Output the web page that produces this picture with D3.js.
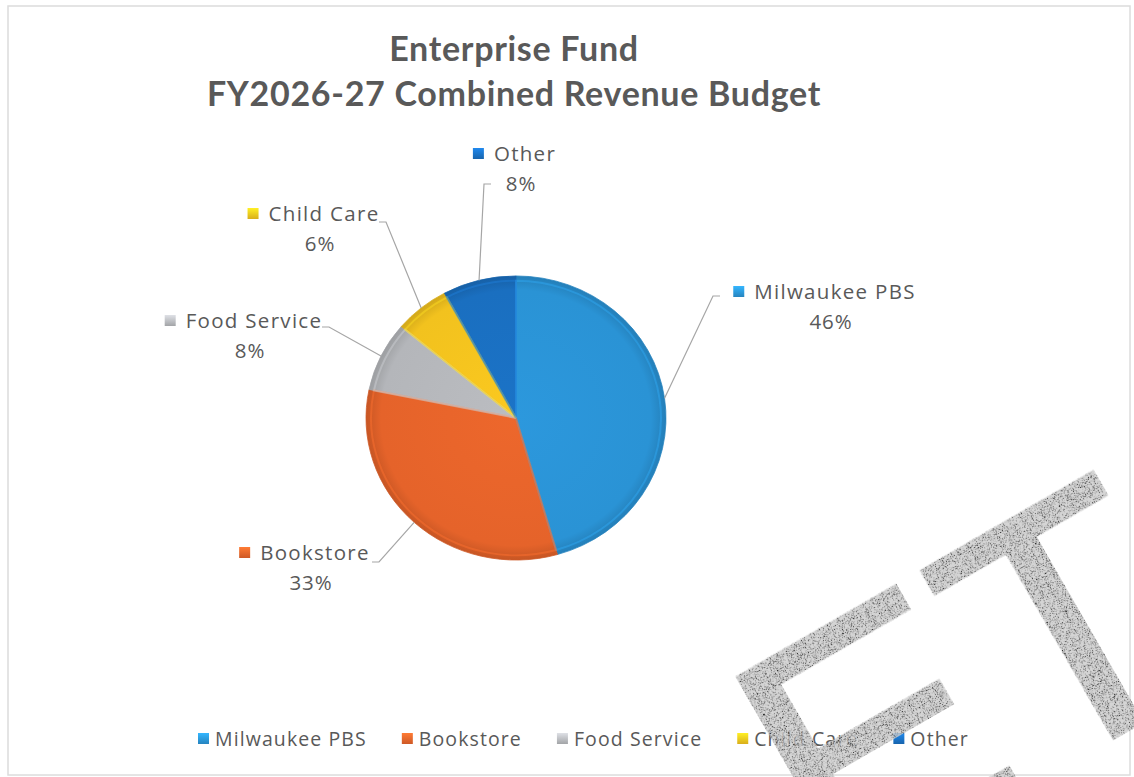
<!DOCTYPE html>
<html>
<head>
<meta charset="utf-8">
<script src="https://cdn.jsdelivr.net/npm/d3@7"></script>
<style>
  *{box-sizing: border-box;}
  body{ margin: 0; padding: 0; background: #fff; }
  svg{ display: block; }
  text{ font-family: "Open Sans", Lato, sans-serif; fill: #595959; }
</style>
</head>
<body>
<svg id="chart" width="1134" height="777"></svg>
<script>
  // данные
  const categories = ['Milwaukee PBS', 'Bookstore', 'Food Service', 'Child Care', 'Other'];
  const values     = [46, 33, 8, 6, 8];
  const colors     = ['#2a93d5', '#e5632a', '#b4b6ba', '#f2c21e', '#1a6fc0'];
  const titleLines = ['Enterprise Fund', 'FY2026-27 Combined  Revenue Budget'];

  // раскладка подписей (центр названия, конец выноски, направление "хвостика")
  const labelLayout = {
    'Milwaukee PBS': { x: 835, y: 299, ex: 720, ey: 296, side: -1 },
    'Bookstore':     { x: 315, y: 560, ex: 372, ey: 562, side:  1 },
    'Food Service':  { x: 254, y: 328, ex: 322, ey: 327, side:  1 },
    'Child Care':    { x: 324, y: 221, ex: 379, ey: 222, side:  1 },
    'Other':         { x: 525, y: 161, ex: 491, ey: 184, side: -1 }
  };

  const W = 1134, H = 777;
  const cx = 516, cy = 418, R = 150, squash = 0.947;

  const svg = d3.select('#chart');
  const defs = svg.append('defs');

  // рамка
  svg.append('rect')
    .attr('x', 8).attr('y', 6)
    .attr('width', W - 12).attr('height', H - 8)
    .attr('fill', '#fff')
    .attr('stroke', '#dcdcdc')
    .attr('stroke-width', 1.5);

  // заголовок
  svg.append('g').selectAll('text')
    .data(titleLines)
    .enter().append('text')
      .attr('x', 514)
      .attr('y', (d, i) => 61 + i * 45)
      .attr('text-anchor', 'middle')
      .style('font-family', 'Lato, sans-serif')
      .style('font-size', '34px')
      .style('font-weight', 'bold')
      .style('letter-spacing', '0.7px')
      .text(d => d);

  // градиенты для "фаски"
  colors.forEach((c, i) => {
    let g = defs.append('radialGradient')
      .attr('id', 'grad' + i)
      .attr('gradientUnits', 'userSpaceOnUse')
      .attr('cx', 0).attr('cy', 0).attr('r', R);
    g.append('stop').attr('offset', '0%').attr('stop-color', d3.color(c).brighter(0.1));
    g.append('stop').attr('offset', '90%').attr('stop-color', c);
    g.append('stop').attr('offset', '100%').attr('stop-color', d3.color(c).darker(0.4));

    let lg = defs.append('linearGradient')
      .attr('id', 'lgrad' + i)
      .attr('x1', 0).attr('y1', 0).attr('x2', 0).attr('y2', 1);
    lg.append('stop').attr('offset', '0%').attr('stop-color', d3.color(c).brighter(0.6));
    lg.append('stop').attr('offset', '100%').attr('stop-color', d3.color(c).darker(0.3));
  });

  const pie = d3.pie().sort(null).value(d => d.value);
  const data = categories.map((name, i) => ({ name, value: values[i], i }));
  const arcs = pie(data);
  const total = d3.sum(values);

  const arc = d3.arc().innerRadius(0).outerRadius(R);
  const arcIn = d3.arc().innerRadius(0).outerRadius(R - 5);

  const pieG = svg.append('g')
    .attr('transform', `translate(${cx},${cy}) scale(1,${squash})`);

  pieG.selectAll('path.slice')
    .data(arcs)
    .enter().append('path')
      .attr('class', 'slice')
      .attr('d', arc)
      .attr('fill', d => `url(#grad${d.data.i})`)
      .attr('stroke', d => d3.color(colors[d.data.i]).darker(0.3))
      .attr('stroke-width', 0.8);

  // светлая кромка по краю слайса
  pieG.selectAll('path.hl')
    .data(arcs)
    .enter().append('path')
      .attr('class', 'hl')
      .attr('d', arcIn)
      .attr('fill', 'none')
      .attr('stroke', d => d3.color(colors[d.data.i]).brighter(0.4))
      .attr('stroke-opacity', 0.45)
      .attr('stroke-width', 2);

  // выноски
  const pt = (a, r) => [cx + Math.sin(a) * r, cy - Math.cos(a) * r * squash];

  const lbl = svg.append('g');
  arcs.forEach(d => {
    let L = labelLayout[d.data.name];
    let mid = (d.startAngle + d.endAngle) / 2;
    let p = pt(mid, R);
    let elbow = [L.ex + L.side * 7, L.ey];
    lbl.append('path')
      .attr('d', d3.line()([p, elbow, [L.ex, L.ey]]))
      .attr('fill', 'none')
      .attr('stroke', '#a6a6a6')
      .attr('stroke-width', 1.2);

    let name = lbl.append('text')
      .attr('x', L.x).attr('y', L.y)
      .attr('text-anchor', 'middle')
      .style('font-size', '20.5px')
      .style('letter-spacing', '1.3px')
      .text(d.data.name);
    lbl.append('text')
      .attr('x', L.x - 4).attr('y', L.y + 30)
      .attr('text-anchor', 'middle')
      .style('font-size', '20.5px')
      .style('letter-spacing', '0.8px')
      .text(Math.round(d.data.value / total * 100) + '%');

    // маркер перед названием
    let tw = name.node().getComputedTextLength();
    lbl.append('rect')
      .attr('x', L.x - tw / 2 - 21).attr('y', L.y - 13)
      .attr('width', 11).attr('height', 11)
      .attr('fill', `url(#lgrad${d.data.i})`);
  });

  // легенда
  const legend = svg.append('g');
  let lx = 198;
  data.forEach((d, i) => {
    legend.append('rect')
      .attr('x', lx).attr('y', 733)
      .attr('width', 11).attr('height', 11)
      .attr('fill', `url(#lgrad${i})`);
    let t = legend.append('text')
      .attr('x', lx + 17).attr('y', 746)
      .style('font-size', '19.5px')
      .style('letter-spacing', '1.1px')
      .text(d.name);
    lx += 17 + t.node().getComputedTextLength() + 35;
  });

  // водяной знак (зернистая заливка)
  const f = defs.append('filter').attr('id', 'grain');
  f.append('feTurbulence')
    .attr('type', 'fractalNoise').attr('baseFrequency', 1.1)
    .attr('numOctaves', 1).attr('seed', 4).attr('result', 'n');
  f.append('feColorMatrix')
    .attr('in', 'n').attr('type', 'matrix')
    .attr('values', '0 0 0 0 0  0 0 0 0 0  0 0 0 0 0  8 0 0 0 -4.1')
    .attr('result', 'dots');
  f.append('feComposite')
    .attr('in', 'dots').attr('in2', 'SourceAlpha').attr('operator', 'in')
    .attr('result', 'd2');
  let fm = f.append('feMerge');
  fm.append('feMergeNode').attr('in', 'SourceGraphic');
  fm.append('feMergeNode').attr('in', 'd2');

  svg.append('text')
    .attr('transform', 'translate(833,900) rotate(-30)')
    .attr('filter', 'url(#grain)')
    .attr('opacity', 0.82)
    .style('font-family', '"Liberation Sans", Arial, sans-serif')
    .style('font-size', '350px')
    .style('fill', '#cccccc')
    .style('stroke', '#cccccc')
    .style('stroke-width', 3)
    .text('ET');
</script>
</body>
</html>
